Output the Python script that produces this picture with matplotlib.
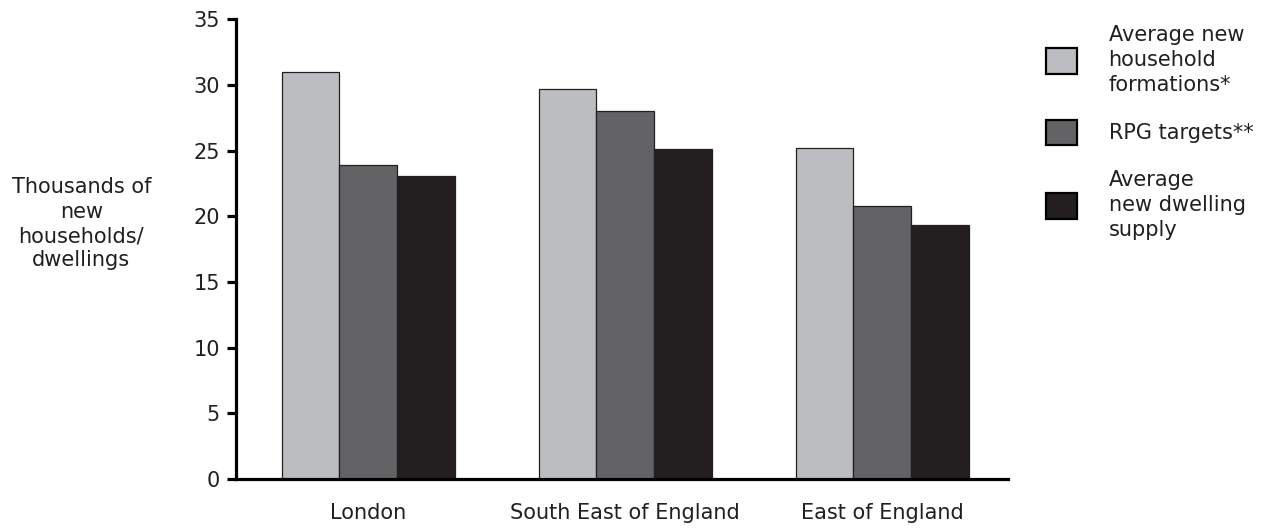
import numpy as np
import matplotlib
matplotlib.use("Agg")
import matplotlib.pyplot as plt
from matplotlib.patches import Patch

# regions and series (thousands of new households / dwellings)
regions = ["London", "South East of England", "East of England"]
series_names = [
    "Average new\nhousehold\nformations*",
    "RPG targets**",
    "Average\nnew dwelling\nsupply",
]
household_formations = [31.0, 29.7, 25.2]
rpg_targets = [23.9, 28.0, 20.8]
dwelling_supply = [23.1, 25.1, 19.3]
y_ticks = [0, 5, 10, 15, 20, 25, 30, 35]

colors = ["#bcbdc0", "#636365", "#231f20"]
ink = "#231f20"

plt.rcParams["font.family"] = "DejaVu Sans"
plt.rcParams["font.size"] = 15

fig = plt.figure(figsize=(12.71, 5.29), dpi=100)
ax = fig.add_axes([0.1857, 0.0945, 0.6074, 0.8692])

x = np.arange(len(regions))
width = 0.225
all_series = [household_formations, rpg_targets, dwelling_supply]
for i, vals in enumerate(all_series):
    ax.bar(
        x + (i - 1) * width,
        vals,
        width,
        color=colors[i],
        edgecolor=ink,
        linewidth=0.9,
        zorder=2,
    )

ax.set_xlim(-0.515, 2.489)
ax.set_ylim(0, 35)
ax.set_yticks(y_ticks)
ax.set_xticks(x)
ax.set_xticklabels(regions, color=ink)

for side in ["top", "right"]:
    ax.spines[side].set_visible(False)
for side in ["left", "bottom"]:
    ax.spines[side].set_linewidth(2.3)
    ax.spines[side].set_color("black")
    ax.spines[side].set_zorder(3)

ax.tick_params(axis="y", length=6.5, width=2.3, pad=5, labelcolor=ink)
ax.tick_params(axis="x", length=0, pad=17)

fig.text(
    0.064, 0.577,
    "Thousands of\nnew\nhouseholds/\ndwellings",
    ha="center", va="center", color=ink, linespacing=1.28,
)

handles = [Patch(facecolor=c, edgecolor="black", linewidth=1.6) for c in colors]
leg = fig.legend(
    handles, series_names,
    loc="upper left",
    bbox_to_anchor=(1045.7 / 1271, 1 - 25 / 529),
    frameon=False,
    borderpad=0,
    borderaxespad=0,
    handlelength=1.52,
    handleheight=1.52,
    handletextpad=1.5,
    labelspacing=1.2,
)
for t in leg.get_texts():
    t.set_linespacing(1.3)
    t.set_color(ink)

fig.savefig("out.png", dpi=100)
